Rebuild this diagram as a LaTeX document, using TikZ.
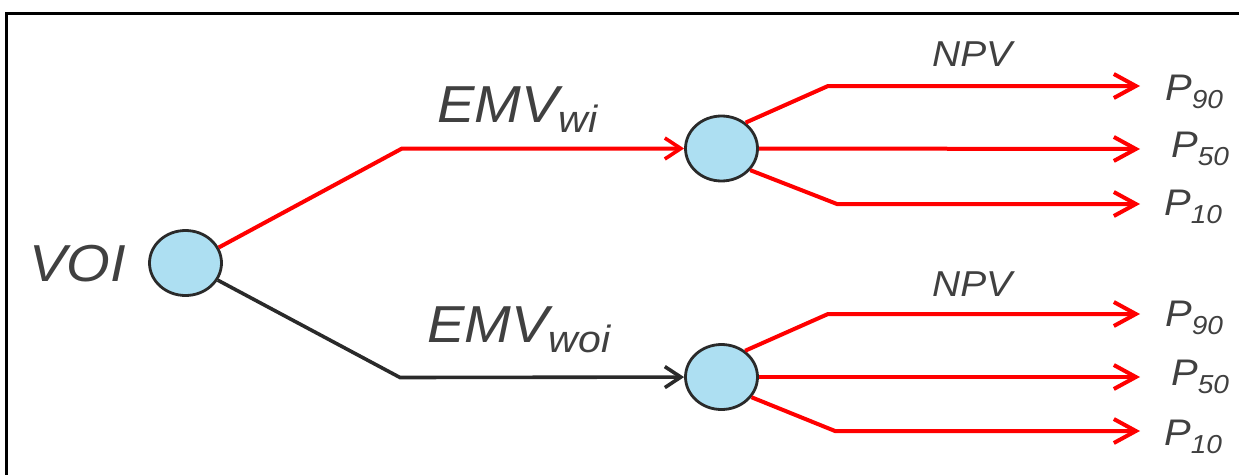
\documentclass[tikz,border=0pt]{standalone}
\usepackage{fontspec}
\setmainfont{Liberation Sans}
\usetikzlibrary{shapes.geometric,arrows.meta}
\definecolor{nodeblue}{HTML}{ADDFF2}
\definecolor{txtgray}{HTML}{404040}
\definecolor{edgegray}{HTML}{2A2A2A}
\tikzset{
  chance/.style={ellipse, draw=edgegray, line width=2.8pt, fill=nodeblue, inner sep=0pt, minimum width=72pt, minimum height=65pt},
  redline/.style={draw=red, line width=4pt, line join=miter},
  blackline/.style={draw=edgegray, line width=3.6pt},
  smalltip/.style={-{Straight Barb[length=16pt,width=21pt,line width=3.6pt]}},
  bigtip/.style={-{Straight Barb[length=22pt,width=24pt,line width=4pt]}},
  lab/.style={anchor=base west, inner sep=0pt, text=txtgray, font=\itshape},
}
\newcommand{\wide}[1]{\scalebox{1.08}[1]{#1}}
\newcommand{\bigfont}{\fontsize{52}{52}\selectfont}
\newcommand{\subfont}{\fontsize{38}{38}\selectfont}
\newcommand{\pfont}{\fontsize{37}{37}\selectfont}
\newcommand{\psubfont}{\fontsize{26}{26}\selectfont}
\newcommand{\npvfont}{\fontsize{36}{36}\selectfont}
\begin{document}
\begin{tikzpicture}[x=1pt,y=-1pt]
\useasboundingbox (0,0) rectangle (1239,474);
\clip (0,0) rectangle (1239,474);
\draw[line width=3pt] (6.5,13) rectangle (1270,500);

% chance nodes
\node[chance] (voi) at (185.5,263) {};
\node[chance] (n1) at (721.5,148.5) {};
\node[chance] (n2) at (721.5,377) {};

% bends and ends
\coordinate (b1) at (402,148.5);
\coordinate (b2) at (400,377.5);
\coordinate (c1) at (828,86);
\coordinate (c3) at (837,204);
\coordinate (c4) at (828,314);
\coordinate (c6) at (835,431);
\coordinate (e1) at (1140,86);
\coordinate (e2) at (1140,149);
\coordinate (e3) at (1140,204);
\coordinate (e4) at (1140,314);
\coordinate (e5) at (1140,377);
\coordinate (e6) at (1140,431);

% first level
\draw[redline, smalltip] (voi.25) -- (b1) -- (n1);
\draw[blackline, smalltip] (voi.-28) -- (b2) -- (n2);

% second level, upper
\draw[redline, bigtip] (n1.47) -- (c1) -- (e1);
\draw[redline, bigtip] (n1.east) -- (e2);
\draw[redline, bigtip] (n1.-37) -- (c3) -- (e3);
% second level, lower
\draw[redline, bigtip] (n2.48) -- (c4) -- (e4);
\draw[redline, bigtip] (n2.east) -- (e5);
\draw[redline, bigtip] (n2.-34) -- (c6) -- (e6);

% labels
\node[lab] (tvoi) at (29,281) {\wide{\bigfont VOI}};
\node[lab] (temv1) at (437,122) {\wide{\bigfont EMV\raisebox{-10pt}{\subfont wi}}};
\node[lab] (temv2) at (427,342) {\wide{\bigfont EMV\raisebox{-10pt}{\subfont woi}}};
\node[lab] (tnpv1) at (932,66) {\wide{\npvfont NPV}};
\node[lab] (tnpv2) at (932,296) {\wide{\npvfont NPV}};

\node[lab] (p1) at (1165,100) {\wide{\pfont P\raisebox{-8pt}{\psubfont 90}}};
\node[lab] (p2) at (1171,157) {\wide{\pfont P\raisebox{-8pt}{\psubfont 50}}};
\node[lab] (p3) at (1164,215) {\wide{\pfont P\raisebox{-8pt}{\psubfont 10}}};
\node[lab] (p4) at (1165,326) {\wide{\pfont P\raisebox{-8pt}{\psubfont 90}}};
\node[lab] (p5) at (1171,385) {\wide{\pfont P\raisebox{-8pt}{\psubfont 50}}};
\node[lab] (p6) at (1164,445) {\wide{\pfont P\raisebox{-8pt}{\psubfont 10}}};
\end{tikzpicture}
\end{document}
